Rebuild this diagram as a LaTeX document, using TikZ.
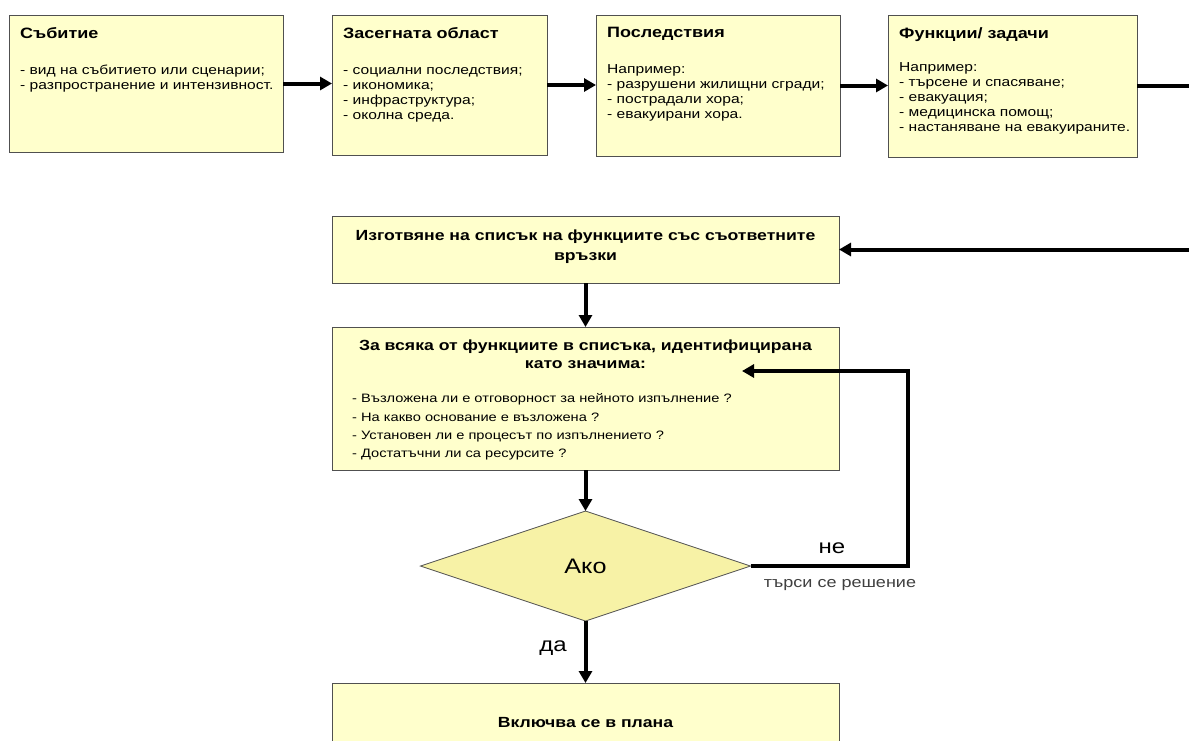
\documentclass[tikz,border=0pt]{standalone}
\usepackage{fontspec}
\setmainfont{Liberation Sans}[FakeStretch=1.2]
\setsansfont{Liberation Sans}[FakeStretch=1.2]
\usepackage{xcolor}
\usepackage{tikz}
\usetikzlibrary{shapes.geometric}
\usetikzlibrary{arrows.meta}
\usetikzlibrary{calc}

\definecolor{boxfill}{HTML}{FFFFCC}
\definecolor{diafill}{HTML}{F7F2A6}
\definecolor{boxline}{HTML}{505050}

\begin{document}
\begin{tikzpicture}[
		x=1pt,
		y=-1pt,
		/utils/exec={\sffamily},
		font=\fontsize{13pt}{15pt}\selectfont,
		>={Triangle[length=12pt,width=13pt]},
	]
		\tikzset{stage/.style={
			draw=boxline,
			fill=boxfill,
			rectangle,
			line width=0.8,
			inner sep=0,
			outer sep=0,
		}}
		\tikzset{stagetext/.style={
			anchor=north west,
			align=left,
			inner sep=0,
			xshift=11,
			yshift=-12,
		}}
		\tikzset{heading/.style={
			font=\fontsize{14.7pt}{20pt}\selectfont\bfseries,
		}}
		\tikzset{flow/.style={
			->,
			line width=4,
		}}

		\useasboundingbox[fill=white] (0,0) rectangle (1189,740);

		%---------------------------------
		% Top row
		\node[
			stage,
			anchor=north west,
			minimum width=274,
			minimum height=137,
		] (event) at (9,15) {};
		\node[stagetext] (eventtxt) at (event.north west) {{\bfseries\fontsize{15pt}{16pt}\selectfont Събитие}\\[21pt]- вид на събитието или сценарии;\\- разпространение и интензивност.};

		\node[
			stage,
			anchor=north west,
			xshift=49,
			minimum width=215,
			minimum height=140,
		] (area) at (event.north east) {};
		\node[stagetext] (areatxt) at (area.north west) {{\bfseries\fontsize{15pt}{16pt}\selectfont Засегната област}\\[21pt]- социални последствия;\\- икономика;\\- инфраструктура;\\- околна среда.};

		\node[
			stage,
			anchor=north west,
			xshift=49,
			minimum width=244,
			minimum height=141,
		] (impact) at (area.north east) {};
		\node[stagetext] (impacttxt) at (impact.north west) {{\bfseries\fontsize{15pt}{16pt}\selectfont Последствия}\\[21pt]Например:\\- разрушени жилищни сгради;\\- пострадали хора;\\- евакуирани хора.};

		\node[
			stage,
			anchor=north west,
			xshift=48,
			minimum width=249,
			minimum height=142,
		] (tasks) at (impact.north east) {};
		\node[stagetext] (taskstxt) at (tasks.north west) {{\bfseries\fontsize{15pt}{16pt}\selectfont Функции/ задачи}\\[18pt]Например:\\- търсене и спасяване;\\- евакуация;\\- медицинска помощ;\\- настаняване на евакуираните.};

		\draw[flow] (event.east) -- (event.east -| area.west);
		\draw[flow] (area.east) -- (area.east -| impact.west);
		\draw[flow] (impact.east) -- (impact.east -| tasks.west);

		%---------------------------------
		% List
		\node[
			stage,
			anchor=north west,
			minimum width=507,
			minimum height=67,
		] (list) at (332,216) {};
		\node[
			heading,
			anchor=north,
			align=center,
			inner sep=0,
			yshift=-13.5,
		] (listtxt) at (list.north) {Изготвяне на списък на функциите със съответните\\връзки};

		\coordinate (rim) at (1196,0);
		\draw[flow] (tasks.east) -- (tasks.east -| rim) -- (rim |- list.east) -- (list.east);

		%---------------------------------
		% Check
		\node[
			stage,
			anchor=north,
			yshift=-44,
			minimum width=507,
			minimum height=143,
		] (check) at (list.south) {};
		\node[
			heading,
			font=\fontsize{14.7pt}{18pt}\selectfont\bfseries,
			anchor=north,
			align=center,
			inner sep=0,
			yshift=-12.5,
		] (checktitle) at (check.north) {За всяка от функциите в списъка, идентифицирана\\като значима:};
		\node[
			anchor=north west,
			align=left,
			inner sep=0,
			xshift=20,
			yshift=-66.5,
			font=\fontsize{12.2pt}{18.3pt}\selectfont,
		] (checkbody) at (check.north west) {- Възложена ли е отговорност за нейното изпълнение ?\\- На какво основание е възложена ?\\- Установен ли е процесът по изпълнението ?\\- Достатъчни ли са ресурсите ?};

		\draw[flow] (list.south) -- (check.north);

		%---------------------------------
		% Decision
		\node[
			diamond,
			aspect=3,
			draw=boxline,
			fill=diafill,
			line width=0.8,
			inner sep=0,
			outer sep=0,
			minimum width=330,
			minimum height=110,
			font=\fontsize{21pt}{24pt}\selectfont,
			anchor=north,
			yshift=-41,
		] (decide) at (check.south) {Ако};

		\draw[flow] (check.south) -- (decide.north);

		\coordinate (loopx) at (908,0);
		\coordinate (back) at (742,371);
		\draw[flow] (decide.east) -- (decide.east -| loopx) |- (back);

		\node[font=\fontsize{20pt}{22pt}\selectfont] (no) at (832,548) {не};
		\node[
			font=\fontsize{15pt}{17pt}\selectfont,
			text=black!75,
		] (seek) at (840,585) {търси се решение};

		%---------------------------------
		% Plan
		\node[
			stage,
			heading,
			anchor=north,
			yshift=-62,
			minimum width=507,
			minimum height=80,
		] (plan) at (decide.south) {Включва се в плана};

		\draw[flow] (decide.south) -- (plan.north);
		\node[font=\fontsize{20pt}{22pt}\selectfont] (yes) at (553,648) {да};
	\end{tikzpicture}
\end{document}
